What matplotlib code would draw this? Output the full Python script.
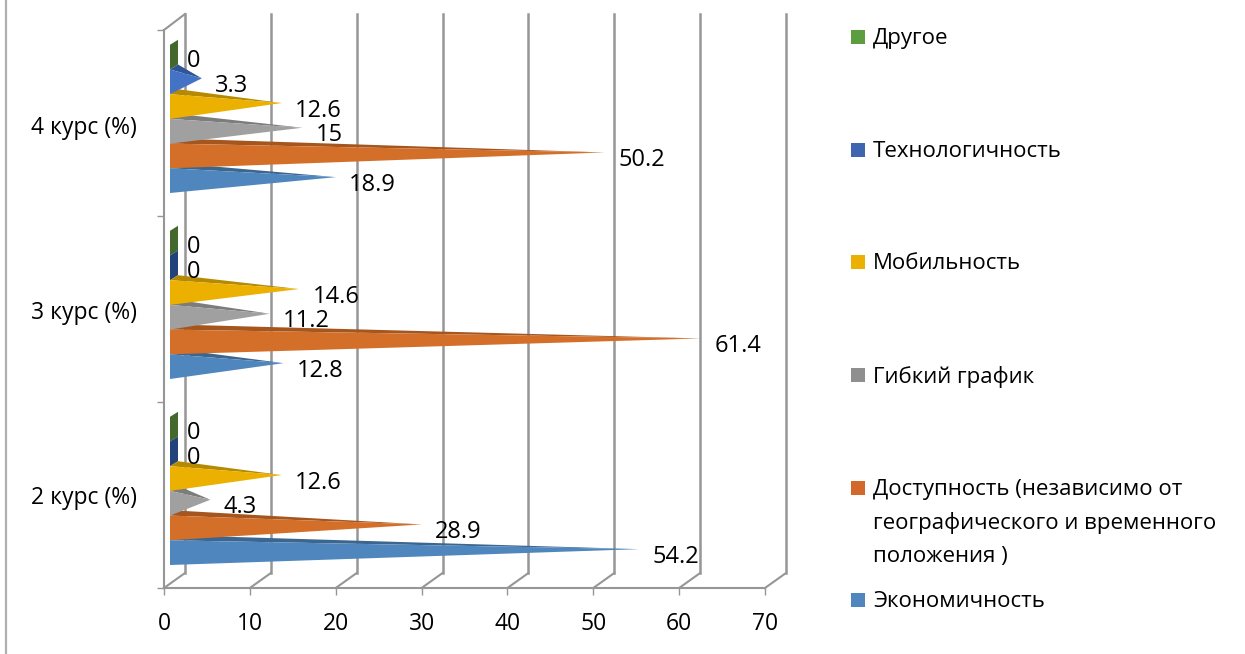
import matplotlib
matplotlib.use('Agg')
import matplotlib.pyplot as plt
from matplotlib.patches import Rectangle

plt.rcParams['font.family'] = ['Open Sans', 'DejaVu Sans']

courses = ['2 курс (%)', '3 курс (%)', '4 курс (%)']
ticks = [0, 10, 20, 30, 40, 50, 60, 70]

# bottom bar first
economy = [54.2, 12.8, 18.9]
access = [28.9, 61.4, 50.2]
flexible = [4.3, 11.2, 15]
mobile = [12.6, 14.6, 12.6]
tech = [0, 0, 3.3]
other = [0, 0, 0]
series = [economy, access, flexible, mobile, tech, other]

front = ['#4f86bd', '#d46f2a', '#a0a0a0', '#ecb100', '#4472c4', '#43682b']
dark = ['#3b6690', '#a5561f', '#7c7c7c', '#b68a00', '#2f5597', '#43682b']
flat = ['#3b6690', '#a5561f', '#7c7c7c', '#b68a00', '#22427c', '#43682b']

legend_names = ['Другое', 'Технологичность', 'Мобильность', 'Гибкий график',
                'Доступность (независимо от\nгеографического и временного\nположения )',
                'Экономичность']
legend_colors = ['#5c9e3f', '#3d66ae', '#ebb000', '#8f8f8f', '#d2682b', '#4f86bd']
legend_y = [37, 150, 262, 375, 488, 600]

W, H = 1245, 654
fig = plt.figure(figsize=(W / 100, H / 100), dpi=100)
ax = fig.add_axes([164 / W, 1 - 588 / H, 601 / W, 558 / H])
ax.set_xlim(0, 70)
ax.set_ylim(0, 3)
ax.patch.set_alpha(0)

sx = 601 / 70  # px per x unit
sy = 186.0     # px per group
wall_x = 21 / sx
wall_y = 15 / sy
GRID = '#969696'

# walls and floor
for t in ticks:
    ax.plot([t + wall_x, t + wall_x], [wall_y, 3 + 16 / sy], color=GRID, lw=1.8, clip_on=False, zorder=1)
    ax.plot([t, t + wall_x], [0, wall_y], color=GRID, lw=1.5, clip_on=False, zorder=1)
ax.plot([0, wall_x], [3, 3 + 16 / sy], color=GRID, lw=1.5, clip_on=False, zorder=1)

for s in ['top', 'right']:
    ax.spines[s].set_visible(False)
for s in ['left', 'bottom']:
    ax.spines[s].set_color(GRID)
    ax.spines[s].set_linewidth(1.5)
ax.set_xticks(ticks)
ax.set_yticks([0, 1, 2, 3])
ax.set_yticklabels([])
ax.tick_params(axis='x', length=5, width=1, color=GRID, pad=12, labelsize=16.5)
ax.tick_params(axis='y', length=5, width=1, color=GRID)

for i, c in enumerate(courses):
    ax.text(-27 / sx, i + 0.5 - (3 + i) / sy, c, ha='right', va='center', fontsize=16.5, color='black')

# zero bars lowest, then dark top facets, then front faces
base_x = 6 / sx
back_x = base_x + 8 / sx
back_y = 5 / sy
bar_h = 24.7 / sy
start = 23 / sy
for k in range(len(series) - 1, -1, -1):
    for g, v in enumerate(series[k]):
        yb = g + start + k * bar_h
        yt = yb + bar_h
        ym = (yb + yt) / 2
        if v == 0:
            ax.fill([base_x, base_x, back_x, back_x], [yb, yt, yt + back_y, yb + back_y],
                    color=flat[k], lw=0, zorder=3, clip_on=False)
        else:
            tip = v + 9.5 / sx
            tip_y = ym + 3.5 / sy
            ax.fill([base_x, back_x, tip], [yt, yt + back_y, tip_y], color=dark[k], lw=0, zorder=4, clip_on=False)
            ax.fill([base_x, base_x, tip], [yb, yt, tip_y], color=front[k], lw=0, zorder=5, clip_on=False)
        ax.text(v + 23 / sx, ym - 4 / sy, f'{v:g}', ha='left', va='center', fontsize=17, color='black', zorder=20)

# legend
for name, col, y in zip(legend_names, legend_colors, legend_y):
    fig.add_artist(Rectangle((851 / W, 1 - (y + 7) / H), 14 / W, 14 / H, color=col, lw=0,
                             transform=fig.transFigure))
    fig.text(873 / W, 1 - (y - 9) / H, name, ha='left', va='top', fontsize=16, linespacing=1.72, color='black')

# stray frame edge on the left
fig.add_artist(plt.Line2D([6 / W, 6 / W], [0, 1], color='#b0b0b0', lw=1.6, transform=fig.transFigure))

fig.savefig('out.png', dpi=100)
